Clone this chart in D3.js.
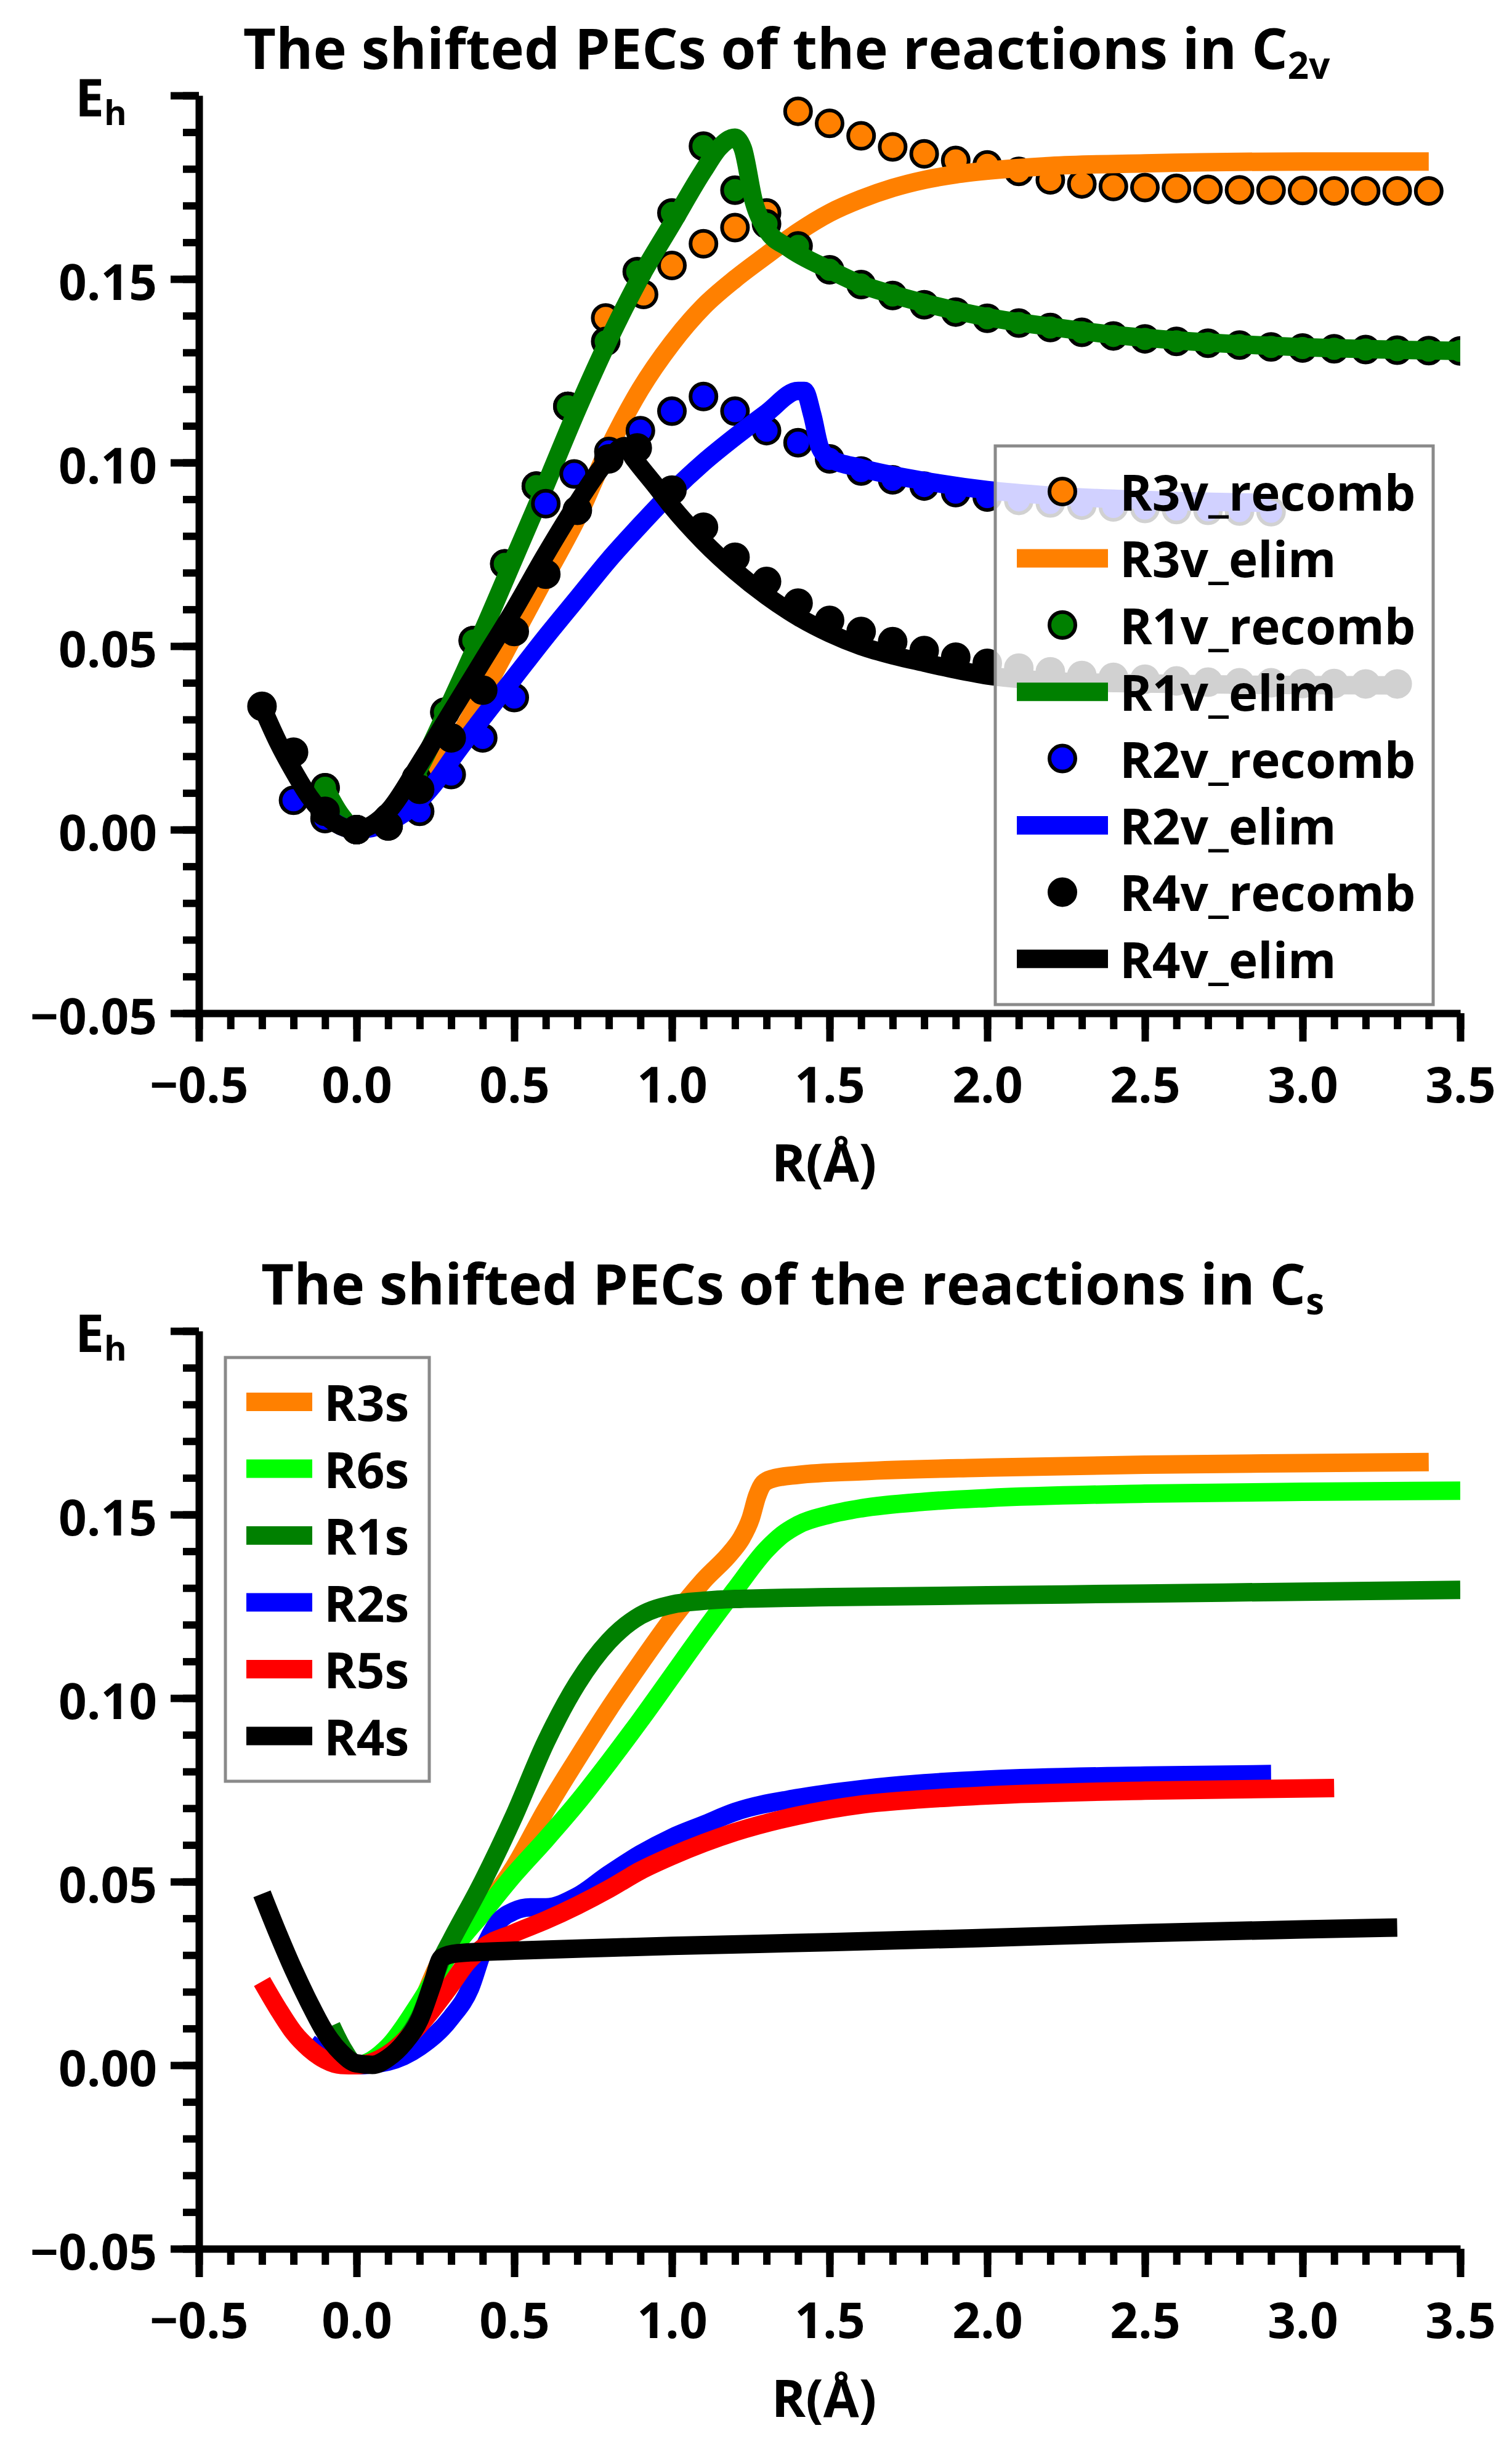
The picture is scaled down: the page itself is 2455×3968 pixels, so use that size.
<!DOCTYPE html>
<html><head><meta charset="utf-8">
<script src="https://cdn.jsdelivr.net/npm/d3@7"></script>
<style>
body{margin:0;background:#fff}
text{font-family:'Open Sans','Noto Sans',sans-serif;font-weight:700;fill:#000}
</style></head>
<body>
<svg id="chart" width="2455" height="3968"></svg>
<script>
// ---------------- DATA (C2v panel) ----------------
const c2vTitle = "The shifted PECs of the reactions in C";
const c2vSub = "2v";
const c2vNames = ["R3v_recomb","R3v_elim","R1v_recomb","R1v_elim","R2v_recomb","R2v_elim","R4v_recomb","R4v_elim"];
const c2vColors = ["#FF8000","#FF8000","#008000","#008000","#0000FF","#0000FF","#000000","#000000"];
const c2vKinds = ["dot","line","dot","line","dot","line","dot","line"];

const R3v_recomb = [[-0.1,0.0114],[0,0],[0.1,0.003],[0.19,0.014],[0.28,0.032],[0.37,0.0515],[0.47,0.0724],[0.57,0.0936],[0.67,0.1153],[0.79,0.1394],[0.91,0.1458],[1.0,0.1537],[1.1,0.1596],[1.2,0.164],[1.3,0.168],[1.4,0.1957],[1.5,0.1924],[1.6,0.189],[1.7,0.186],[1.8,0.1841],[1.9,0.1823],[2.0,0.1811],[2.1,0.1793],[2.2,0.177],[2.3,0.1759],[2.4,0.1752],[2.5,0.1749],[2.6,0.1747],[2.7,0.1744],[2.8,0.1743],[2.9,0.1742],[3.0,0.1741],[3.1,0.174],[3.2,0.174],[3.3,0.174],[3.4,0.174]];
const R3v_elim = [[-0.1,0.004],[0,0],[0.1,0.004],[0.2,0.012],[0.3,0.022],[0.4,0.037],[0.5,0.053],[0.6,0.069],[0.7,0.085],[0.8,0.104],[0.9,0.120],[1.0,0.1325],[1.1,0.1425],[1.2,0.150],[1.3,0.1565],[1.4,0.1628],[1.5,0.1680],[1.6,0.1718],[1.7,0.1748],[1.8,0.1770],[1.9,0.1785],[2.0,0.1795],[2.2,0.1808],[2.5,0.1815],[3.0,0.1820],[3.4,0.1820]];
const R1v_recomb = [[-0.1,0.0114],[0,0],[0.1,0.003],[0.19,0.014],[0.28,0.032],[0.37,0.0515],[0.47,0.0724],[0.57,0.0936],[0.67,0.1153],[0.79,0.133],[0.89,0.152],[1.0,0.168],[1.1,0.1862],[1.2,0.1742],[1.3,0.165],[1.4,0.159],[1.5,0.1525],[1.6,0.1485],[1.7,0.1455],[1.8,0.143],[1.9,0.141],[2.0,0.1393],[2.1,0.138],[2.2,0.1368],[2.3,0.1355],[2.4,0.1345],[2.5,0.1337],[2.6,0.133],[2.7,0.1325],[2.8,0.132],[2.9,0.1315],[3.0,0.1312],[3.1,0.131],[3.2,0.1308],[3.3,0.1306],[3.4,0.1305],[3.5,0.1304]];
const R1v_elim = [[-0.1,0.0114],[-0.05,0.004],[0,0],[0.1,0.004],[0.2,0.017],[0.3,0.035],[0.4,0.054],[0.5,0.074],[0.6,0.094],[0.7,0.1145],[0.8,0.1335],[0.9,0.1505],[1.0,0.165],[1.1,0.1795],[1.15,0.1858],[1.2,0.1885],[1.225,0.1855],[1.26,0.171],[1.3,0.1635],[1.37,0.1585],[1.5,0.1525],[1.6,0.1485],[1.7,0.1458],[1.84,0.1426],[2.0,0.1396],[2.2,0.1370],[2.4,0.1348],[2.6,0.1333],[2.8,0.1322],[3.0,0.1314],[3.2,0.1309],[3.5,0.1304]];
const R2v_recomb = [[-0.2,0.008],[-0.1,0.003],[0,0],[0.1,0.001],[0.2,0.005],[0.3,0.015],[0.4,0.025],[0.5,0.036],[0.6,0.0888],[0.69,0.0969],[0.8,0.103],[0.9,0.1087],[1.0,0.114],[1.1,0.118],[1.2,0.114],[1.3,0.1087],[1.4,0.1054],[1.5,0.101],[1.6,0.0977],[1.7,0.0953],[1.8,0.0936],[1.9,0.0918],[2.0,0.0906],[2.1,0.0897],[2.2,0.089],[2.3,0.0884],[2.4,0.0879],[2.5,0.0875],[2.6,0.0872],[2.7,0.087],[2.8,0.0868],[2.9,0.0866]];
const R2v_elim = [[-0.1,0.004],[-0.05,0.001],[0,0],[0.1,0.002],[0.2,0.008],[0.26,0.014],[0.3,0.019],[0.4,0.0305],[0.5,0.0415],[0.6,0.0525],[0.7,0.063],[0.8,0.0735],[0.9,0.083],[1.0,0.092],[1.1,0.100],[1.2,0.107],[1.3,0.1135],[1.4,0.1195],[1.42,0.1195],[1.445,0.113],[1.47,0.104],[1.5,0.1012],[1.6,0.0985],[1.8,0.0950],[2.0,0.0925],[2.2,0.0910],[2.5,0.0898],[2.9,0.0890]];
const R4v_recomb = [[-0.3,0.0336],[-0.2,0.0211],[-0.1,0.005],[0,0],[0.1,0.001],[0.2,0.011],[0.3,0.025],[0.4,0.038],[0.5,0.054],[0.6,0.0696],[0.7,0.087],[0.8,0.101],[0.89,0.104],[1.0,0.0925],[1.1,0.0824],[1.2,0.0742],[1.3,0.0676],[1.4,0.0617],[1.5,0.057],[1.6,0.054],[1.7,0.0512],[1.8,0.0488],[1.9,0.047],[2.0,0.0453],[2.1,0.044],[2.2,0.043],[2.3,0.042],[2.4,0.0415],[2.5,0.041],[2.6,0.0405],[2.7,0.0402],[2.8,0.040],[2.9,0.040],[3.0,0.0398],[3.1,0.0398],[3.2,0.0397],[3.3,0.0397]];
const R4v_elim = [[-0.3,0.0335],[-0.25,0.024],[-0.2,0.016],[-0.15,0.009],[-0.1,0.004],[-0.05,0.001],[0,0],[0.1,0.005],[0.2,0.018],[0.3,0.032],[0.4,0.046],[0.5,0.060],[0.6,0.075],[0.7,0.089],[0.8,0.101],[0.85,0.1045],[0.88,0.101],[0.95,0.0935],[1.0,0.0880],[1.1,0.0785],[1.2,0.0705],[1.3,0.0637],[1.4,0.0580],[1.5,0.0535],[1.6,0.0500],[1.7,0.0475],[1.8,0.0455],[1.9,0.0436],[2.0,0.0420],[2.2,0.0405],[2.5,0.0398],[2.8,0.0395],[3.0,0.0394],[3.3,0.0393]];
const c2vSeries = [R3v_recomb,R3v_elim,R1v_recomb,R1v_elim,R2v_recomb,R2v_elim,R4v_recomb,R4v_elim];

// ---------------- DATA (Cs panel) ----------------
const csTitle = "The shifted PECs of the reactions in C";
const csSub = "s";
const csNames = ["R3s","R6s","R1s","R2s","R5s","R4s"];
const csColors = ["#FF8000","#00FF00","#008000","#0000FF","#FF0000","#000000"];
const R3s = [[-0.1,0.005],[-0.05,0.001],[0,0],[0.1,0.004],[0.2,0.016],[0.27,0.029],[0.3,0.032],[0.4,0.042],[0.5,0.054],[0.6,0.0695],[0.7,0.0835],[0.8,0.097],[0.9,0.1095],[1.0,0.1215],[1.1,0.132],[1.19,0.140],[1.22,0.1435],[1.25,0.149],[1.27,0.155],[1.29,0.1585],[1.32,0.1598],[1.4,0.1608],[1.6,0.1618],[2.0,0.1628],[2.5,0.1636],[3.0,0.1640],[3.4,0.1643]];
const R6s = [[-0.05,0.003],[0,0],[0.1,0.005],[0.2,0.017],[0.3,0.031],[0.4,0.0415],[0.5,0.052],[0.6,0.0615],[0.7,0.0715],[0.8,0.0825],[0.9,0.094],[1.0,0.106],[1.1,0.118],[1.2,0.1295],[1.3,0.1405],[1.35,0.1445],[1.4,0.1472],[1.5,0.1500],[1.6,0.1517],[1.8,0.1535],[2.0,0.1545],[2.5,0.1557],[3.0,0.1562],[3.5,0.1565]];
const R1s = [[-0.08,0.0107],[-0.04,0.004],[0,0],[0.1,0.003],[0.2,0.013],[0.27,0.029],[0.3,0.034],[0.4,0.050],[0.5,0.068],[0.6,0.088],[0.7,0.104],[0.8,0.1155],[0.9,0.1225],[1.0,0.1255],[1.1,0.1265],[1.2,0.1270],[1.5,0.1275],[2.0,0.1280],[2.5,0.1285],[3.0,0.1290],[3.5,0.1295]];
const R2s = [[-0.15,0.006],[-0.1,0.003],[-0.05,0.001],[0,0],[0.1,0.001],[0.2,0.005],[0.3,0.013],[0.36,0.021],[0.4,0.031],[0.45,0.039],[0.5,0.042],[0.55,0.043],[0.6,0.043],[0.7,0.046],[0.8,0.052],[0.9,0.0575],[1.0,0.062],[1.1,0.0655],[1.2,0.069],[1.4,0.0728],[1.6,0.0752],[1.8,0.0768],[2.0,0.0778],[2.5,0.0789],[2.9,0.0793]];
const R5s = [[-0.3,0.0228],[-0.25,0.0155],[-0.2,0.009],[-0.15,0.0045],[-0.1,0.0015],[-0.05,0.0001],[0,0],[0.1,0.003],[0.2,0.011],[0.3,0.022],[0.35,0.028],[0.4,0.032],[0.5,0.036],[0.6,0.0395],[0.7,0.0435],[0.8,0.048],[0.9,0.053],[1.0,0.057],[1.2,0.0635],[1.4,0.068],[1.6,0.071],[1.8,0.0725],[2.0,0.0735],[2.5,0.0748],[3.1,0.0755]];
const R4s = [[-0.3,0.0467],[-0.25,0.036],[-0.2,0.026],[-0.15,0.017],[-0.1,0.009],[-0.05,0.0035],[0,0.0005],[0.05,0.0001],[0.1,0.002],[0.15,0.006],[0.2,0.0125],[0.24,0.022],[0.27,0.0293],[0.32,0.0305],[0.5,0.0312],[0.8,0.0320],[1.0,0.0325],[1.5,0.0335],[2.0,0.0347],[2.5,0.0360],[3.0,0.0370],[3.3,0.0375]];
const csSeries = [R3s,R6s,R1s,R2s,R5s,R4s];

// ---------------- AXIS TICKS ----------------
const xMajorTicks = [-0.5,0,0.5,1,1.5,2,2.5,3,3.5];
const xMinorTicks = d3.range(-5,36).map(i=>i/10);
const yMajorTicks = [-0.05,0,0.05,0.1,0.15,0.2];
const yLabelTicks = [-0.05,0,0.05,0.1,0.15];
const yMinorTicks = d3.range(-5,21).map(i=>i/100);
const xLabel = "R(Å)";
const yLabel = "E";
const yLabelSub = "h";

// ---------------- DRAWING ----------------
const svg = d3.select("#chart");
svg.append("rect").attr("width",2455).attr("height",3968).attr("fill","#fff");
const x = d3.scaleLinear().domain([-0.5,3.5]).range([323,2371]);

function drawPanel(idx, off, title, sub, series, names, colors, kinds, legend){
  const g = svg.append("g");
  const y = d3.scaleLinear().domain([-0.05,0.2]).range([1645+off,155+off]);
  const clipId = "clip"+idx;
  g.append("clipPath").attr("id",clipId).append("rect")
    .attr("x",x(-0.5)).attr("y",y(0.2)-60).attr("width",x(3.5)-x(-0.5)).attr("height",y(-0.05)-y(0.2)+60);
  const plot = g.append("g").attr("clip-path",`url(#${clipId})`);
  const line = d3.line().x(d=>x(d[0])).y(d=>y(d[1])).curve(d3.curveMonotoneX);
  series.forEach((s,i)=>{
    if(kinds[i]==="line"){
      plot.append("path").datum(s).attr("d",line).attr("fill","none")
        .attr("stroke",colors[i]).attr("stroke-width",30).attr("stroke-linejoin","round").attr("stroke-linecap","butt");
    } else {
      plot.append("g").selectAll("circle").data(s).join("circle")
        .attr("cx",d=>x(d[0])).attr("cy",d=>y(d[1])).attr("r",21)
        .attr("fill",colors[i]).attr("stroke","#000").attr("stroke-width",6);
    }
  });

  // axes
  const axY = y(-0.05), axX = x(-0.5);
  const gxMin = g.append("g").attr("transform",`translate(0,${axY})`)
    .call(d3.axisBottom(x).tickValues(xMinorTicks).tickSize(26).tickFormat(""));
  gxMin.select(".domain").remove();
  const gx = g.append("g").attr("transform",`translate(0,${axY})`)
    .call(d3.axisBottom(x).tickValues(xMajorTicks).tickSize(46).tickSizeOuter(0).tickPadding(42).tickFormat(d3.format(".1f")));
  const gyMin = g.append("g").attr("transform",`translate(${axX},0)`)
    .call(d3.axisLeft(y).tickValues(yMinorTicks).tickSize(26).tickFormat(""));
  gyMin.select(".domain").remove();
  const gy = g.append("g").attr("transform",`translate(${axX},0)`)
    .call(d3.axisLeft(y).tickValues(yMajorTicks).tickSize(46).tickSizeOuter(0).tickPadding(22)
      .tickFormat(d=> yLabelTicks.some(v=>Math.abs(v-d)<1e-9) ? d3.format(".2f")(d) : ""));
  [gxMin,gx,gyMin,gy].forEach(a=>{
    a.selectAll("line").attr("stroke","#000").attr("stroke-width",12);
    a.selectAll(".domain").attr("stroke","#000").attr("stroke-width",12);
    a.selectAll("text").attr("font-size",80).attr("font-family","'Open Sans',sans-serif").attr("font-weight",700).attr("fill","#000");
  });
  gy.selectAll("text").attr("dy","0.42em");

  // axis labels
  g.append("text").attr("x",1338).attr("y",1918+off).attr("text-anchor","middle").attr("font-size",84).text(xLabel);
  const eh = g.append("text").attr("x",122).attr("y",189+off).attr("font-size",84);
  eh.append("tspan").text(yLabel);
  eh.append("tspan").attr("font-size",56).attr("dy",14).text(yLabelSub);

  // title
  const t = g.append("text").attr("x",legend.titleX).attr("y",112+off).attr("text-anchor","middle").attr("font-size",92);
  t.append("tspan").text(title);
  t.append("tspan").attr("font-size",60).attr("dy",16).text(sub);

  // legend
  const lg = g.append("g");
  lg.append("rect").attr("x",legend.x).attr("y",legend.y+off).attr("width",legend.w).attr("height",legend.h)
    .attr("fill","#fff").attr("fill-opacity",0.82).attr("stroke","#8a8a8a").attr("stroke-width",5);
  names.forEach((n,i)=>{
    const cy = legend.row0 + off + i*legend.dy;
    if(kinds[i]==="line"){
      lg.append("line").attr("x1",legend.lx1).attr("x2",legend.lx2).attr("y1",cy).attr("y2",cy)
        .attr("stroke",colors[i]).attr("stroke-width",30);
    } else {
      lg.append("circle").attr("cx",(legend.lx1+legend.lx2)/2).attr("cy",cy).attr("r",21)
        .attr("fill",colors[i]).attr("stroke","#000").attr("stroke-width",6);
    }
    lg.append("text").attr("x",legend.tx).attr("y",cy+31).attr("font-size",80).text(n);
  });
}

drawPanel(0, 0, c2vTitle, c2vSub, c2vSeries, c2vNames, c2vColors, c2vKinds,
  {x:1616,y:724,w:711,h:907,row0:798,dy:108.4,lx1:1651,lx2:1799,tx:1818,titleX:1277});
drawPanel(1, 2006, csTitle, csSub, csSeries, csNames, csColors, csNames.map(()=> "line"),
  {x:366,y:198,w:331,h:688,row0:270,dy:108.5,lx1:400,lx2:507,tx:526,titleX:1287});
</script>
</body></html>
